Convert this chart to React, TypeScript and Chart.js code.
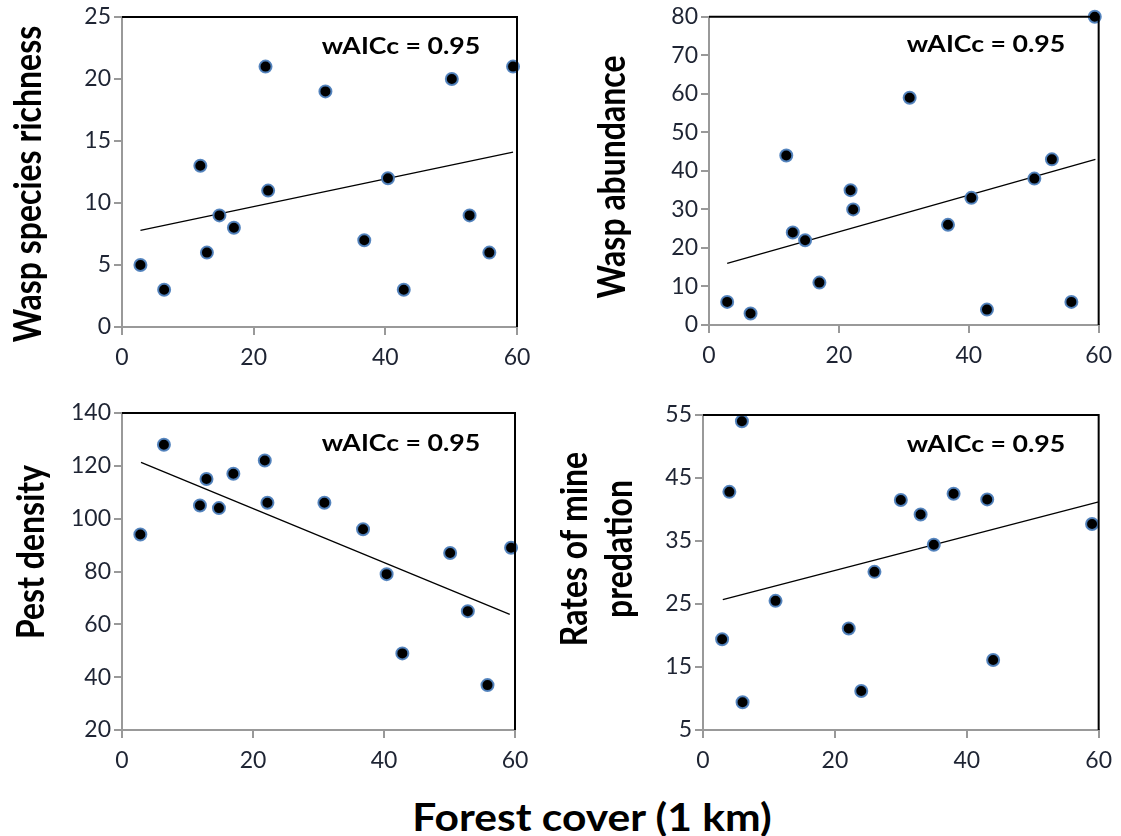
import React, { useEffect, useRef } from "react";
import { Chart, registerables } from "chart.js";

Chart.register(...registerables);

// ---------- data ----------
const forestCover = [2.8, 6.4, 11.9, 12.9, 14.8, 17.0, 21.8, 22.2, 30.9, 36.8, 40.4, 42.8, 50.1, 52.8, 55.8, 59.4];
const waspRichness = [5, 3, 13, 6, 9, 8, 21, 11, 19, 7, 12, 3, 20, 9, 6, 21];
const waspAbundance = [6, 3, 44, 24, 22, 11, 35, 30, 59, 26, 33, 4, 38, 43, 6, 80];
const pestDensity = [94, 128, 105, 115, 104, 117, 122, 106, 106, 96, 79, 49, 87, 65, 37, 89];
const predationCover = [2.9, 4.0, 5.9, 6.0, 11.0, 22.1, 24.0, 26.0, 30.0, 33.0, 35.0, 38.0, 43.1, 44.0, 59.0];
const minePredation = [19.4, 42.8, 54.0, 9.4, 25.5, 21.1, 11.2, 30.1, 41.5, 39.2, 34.4, 42.5, 41.6, 16.1, 37.7];

const trendRichnessX = [2.8, 59.4];
const trendRichnessY = [7.8, 14.1];
const trendAbundanceX = [2.8, 59.5];
const trendAbundanceY = [16.0, 43.0];
const trendPestX = [2.9, 59.2];
const trendPestY = [121.3, 63.8];
const trendPredationX = [3.0, 60.0];
const trendPredationY = [25.7, 41.2];

const xTicks = [0, 20, 40, 60];
const richnessTicks = [0, 5, 10, 15, 20, 25];
const abundanceTicks = [0, 10, 20, 30, 40, 50, 60, 70, 80];
const pestTicks = [20, 40, 60, 80, 100, 120, 140];
const predationTicks = [5, 15, 25, 35, 45, 55];

const yTitles = [["Wasp species richness"], ["Wasp abundance"], ["Pest density"], ["Rates of mine", "predation"]];
const annotation = "wAICc = 0.95";
const xAxisTitle = "Forest cover (1 km)";

// ---------- layout ----------
type Panel = {
  xs: number[]; ys: number[]; tx: number[]; ty: number[]; yTicks: number[];
  title: string[];
  canvas: { left: number; top: number; w: number; h: number };
  area: { l: number; t: number; r: number; b: number };
  titlePos: { x: number[]; y: number };
  annPos: { x: number; y: number };
};

const panels: Panel[] = [
  {
    xs: forestCover, ys: waspRichness, tx: trendRichnessX, ty: trendRichnessY, yTicks: richnessTicks,
    title: yTitles[0],
    canvas: { left: 0, top: 0, w: 560, h: 380 },
    area: { l: 122, t: 17, r: 517, b: 327 },
    titlePos: { x: [29], y: 184 },
    annPos: { x: 401, y: 47 },
  },
  {
    xs: forestCover, ys: waspAbundance, tx: trendAbundanceX, ty: trendAbundanceY, yTicks: abundanceTicks,
    title: yTitles[1],
    canvas: { left: 560, top: 0, w: 561, h: 380 },
    area: { l: 709, t: 15, r: 1105, b: 325 },
    titlePos: { x: [613], y: 177 },
    annPos: { x: 986, y: 45 },
  },
  {
    xs: forestCover, ys: pestDensity, tx: trendPestX, ty: trendPestY, yTicks: pestTicks,
    title: yTitles[2],
    canvas: { left: 0, top: 380, w: 560, h: 400 },
    area: { l: 122, t: 413, r: 515, b: 730 },
    titlePos: { x: [32], y: 552 },
    annPos: { x: 401, y: 444 },
  },
  {
    xs: predationCover, ys: minePredation, tx: trendPredationX, ty: trendPredationY, yTicks: predationTicks,
    title: yTitles[3],
    canvas: { left: 560, top: 380, w: 561, h: 400 },
    area: { l: 703, t: 415, r: 1102, b: 730 },
    titlePos: { x: [575, 620], y: 549 },
    annPos: { x: 986, y: 445 },
  },
];

const TICK_FONT = { family: "Lato", size: 23 };
const TICK_COLOR = "#1e2433";
const AXIS_GRAY = "#999999";
const BOLD_FAMILY = "Lato";
const TITLE_SIZE = 32;
const TITLE_STRETCH = 1.2;
const ANN_SIZE = 23;
const ANN_STRETCH = 1.16;

function PanelChart({ p }: { p: Panel }) {
  const ref = useRef<HTMLCanvasElement | null>(null);
  useEffect(() => {
    if (!ref.current) return;
    const { canvas, area } = p;
    const framePlugin = {
      id: "frameAndText",
      afterDatasetsDraw(chart: any) {
        const ctx = chart.ctx;
        const ca = chart.chartArea;
        ctx.save();
        ctx.strokeStyle = "#000";
        ctx.lineWidth = 2;
        ctx.beginPath();
        ctx.moveTo(ca.left, ca.top);
        ctx.lineTo(ca.right, ca.top);
        ctx.lineTo(ca.right, ca.bottom);
        ctx.stroke();
        ctx.fillStyle = "#000";
        ctx.textAlign = "center";
        ctx.textBaseline = "middle";
        ctx.font = `bold ${TITLE_SIZE}px ${BOLD_FAMILY}`;
        p.title.forEach((line, i) => {
          ctx.save();
          ctx.translate(p.titlePos.x[i] - canvas.left, p.titlePos.y - canvas.top);
          ctx.rotate(-Math.PI / 2);
          ctx.scale(1, TITLE_STRETCH);
          ctx.fillText(line, 0, 0);
          ctx.restore();
        });
        ctx.save();
        ctx.font = `bold ${ANN_SIZE}px ${BOLD_FAMILY}`;
        ctx.translate(p.annPos.x - canvas.left, p.annPos.y - canvas.top);
        ctx.scale(ANN_STRETCH, 1);
        ctx.fillText(annotation, 0, 0);
        ctx.restore();
        ctx.restore();
      },
    };
    const scatterData = p.xs.map((x, i) => ({ x, y: p.ys[i] }));
    const lineData = p.tx.map((x, i) => ({ x, y: p.ty[i] }));
    const yMin = p.yTicks[0];
    const yMax = p.yTicks[p.yTicks.length - 1];
    const chart = new Chart(ref.current, {
      type: "scatter",
      data: {
        datasets: [
          {
            type: "scatter",
            data: scatterData,
            pointRadius: 6,
            pointBackgroundColor: "#000",
            pointBorderColor: "rgba(79,129,189,0.95)",
            pointBorderWidth: 2,
            clip: false,
            order: 1,
          } as any,
          {
            type: "line",
            data: lineData,
            borderColor: "#000",
            borderWidth: 1.3,
            pointRadius: 0,
            fill: false,
            clip: false,
            order: 2,
          } as any,
        ],
      },
      options: {
        animation: false,
        responsive: false,
        maintainAspectRatio: false,
        events: [],
        layout: {
          autoPadding: false,
          padding: {
            left: 0,
            top: area.t - canvas.top,
            right: canvas.w - (area.r - canvas.left),
            bottom: 0,
          },
        },
        plugins: { legend: { display: false }, tooltip: { enabled: false } },
        scales: {
          x: {
            type: "linear",
            min: xTicks[0],
            max: xTicks[xTicks.length - 1],
            afterBuildTicks: (s: any) => { s.ticks = xTicks.map((v) => ({ value: v })); },
            ticks: { font: TICK_FONT, color: TICK_COLOR, padding: 9 },
            grid: { display: true, drawOnChartArea: false, drawTicks: true, tickLength: 8, color: AXIS_GRAY, lineWidth: 2 },
            border: { display: true, color: AXIS_GRAY, width: 2 },
            afterFit: (s: any) => { s.height = canvas.top + canvas.h - area.b; },
          },
          y: {
            type: "linear",
            min: yMin,
            max: yMax,
            ticks: { font: TICK_FONT, color: TICK_COLOR, padding: 3 },
            afterBuildTicks: (s: any) => { s.ticks = p.yTicks.map((v) => ({ value: v })); },
            grid: { display: true, drawOnChartArea: false, drawTicks: true, tickLength: 8, color: AXIS_GRAY, lineWidth: 2 },
            border: { display: true, color: AXIS_GRAY, width: 2 },
            afterFit: (s: any) => { s.width = area.l - canvas.left; },
          },
        },
      },
      plugins: [framePlugin],
    } as any);
    return () => chart.destroy();
  }, [p]);
  return (
    <canvas
      ref={ref}
      width={p.canvas.w}
      height={p.canvas.h}
      style={{ position: "absolute", left: p.canvas.left, top: p.canvas.top, width: p.canvas.w, height: p.canvas.h }}
    />
  );
}

export default function App() {
  return (
    <div style={{ position: "absolute", left: 0, top: 0, width: 1121, height: 836, background: "#fff", overflow: "hidden" }}>
      {panels.map((p, i) => (
        <PanelChart key={i} p={p} />
      ))}
      <div
        style={{
          position: "absolute",
          left: 0,
          width: 1184,
          top: 794,
          textAlign: "center",
          fontFamily: "Lato",
          fontWeight: "bold",
          fontSize: 38,
          lineHeight: "44px",
          color: "#000",
          transform: "scaleX(1.12)",
          transformOrigin: "592px 22px",
        }}
      >
        {xAxisTitle}
      </div>
    </div>
  );
}
